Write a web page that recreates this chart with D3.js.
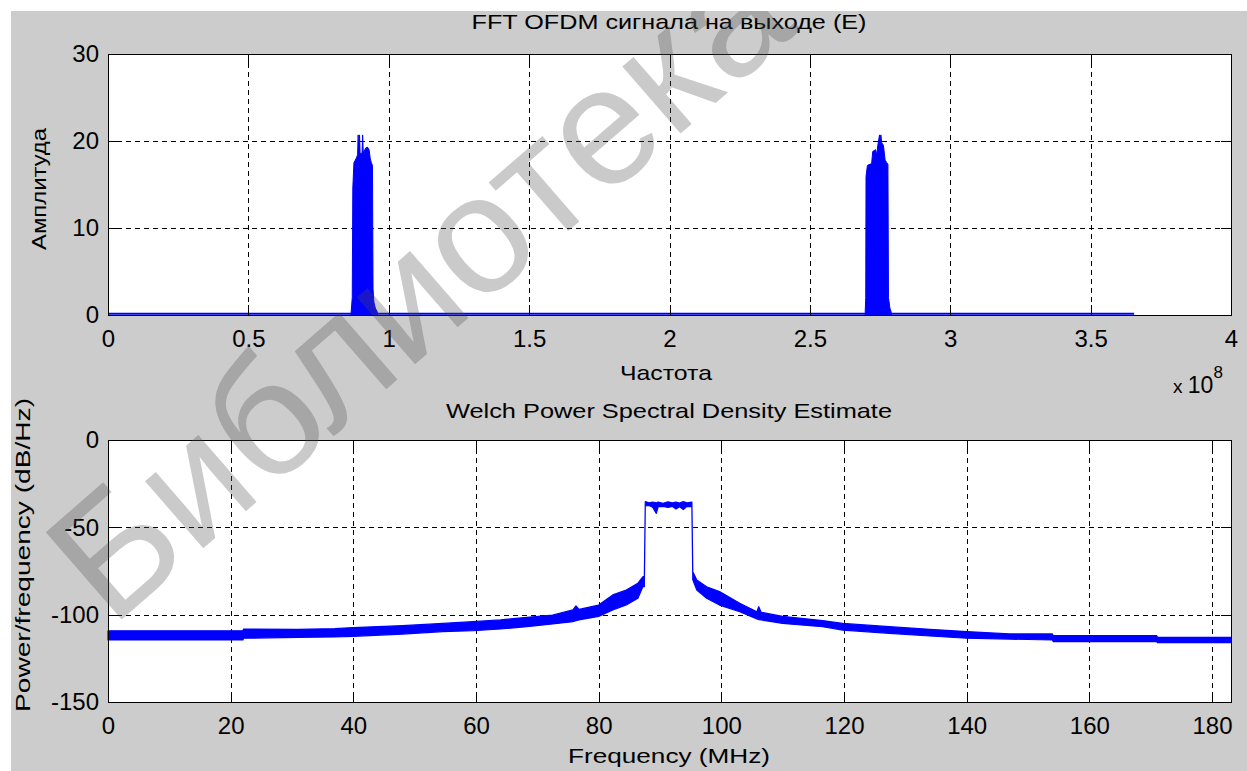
<!DOCTYPE html>
<html>
<head>
<meta charset="utf-8">
<script src="https://cdn.jsdelivr.net/npm/d3@7"></script>
<style>
  body { margin: 0; background: #fff; }
  text { font-family: "Liberation Sans", Arial, Helvetica, sans-serif; fill: #000; }
</style>
</head>
<body>
<div class="container"></div>
<script>
// top plot: FFT amplitude, x in units of 1e8 Hz
const fftX = [0, 3.655]
const fftY = [0.15, 0.15]
const peak1X = [0.866, 0.870, 0.872, 0.876, 0.884, 0.889, 0.891, 0.893, 0.896, 0.898, 0.901, 0.905, 0.907, 0.909, 0.912, 0.918, 0.924, 0.930, 0.934, 0.938, 0.942, 0.944, 0.947, 0.952, 0.960]
const peak1Y = [0.3, 2, 14.6, 17.5, 18.0, 18.4, 20.7, 18.8, 20.7, 18.5, 18.6, 18.6, 20.7, 18.8, 18.8, 19.2, 19.3, 19.0, 18.0, 17.5, 17.2, 3.0, 1.5, 0.8, 0.3]
const peak2X = [2.697, 2.699, 2.700, 2.705, 2.720, 2.724, 2.734, 2.738, 2.742, 2.748, 2.750, 2.753, 2.756, 2.762, 2.768, 2.774, 2.778, 2.780, 2.785, 2.790]
const peak2Y = [0.3, 2, 15.9, 17.2, 17.4, 18.8, 19.0, 18.4, 19.5, 20.7, 20.3, 20.7, 19.8, 19.5, 17.8, 17.5, 17.3, 2.0, 0.8, 0.3]
const fftXTicks = [0, 0.5, 1, 1.5, 2, 2.5, 3, 3.5, 4]
const fftYTicks = [0, 10, 20, 30]

// bottom plot: Welch PSD, thick noisy trace as upper/lower envelope
const psdF    = [0, 22, 22.1, 31, 37, 40, 48, 54.6, 59.5, 64, 68.3, 72.5, 75.8, 76.3, 76.8, 80, 82.3, 84.5, 86.4, 87.2, 87.45, 87.6, 88.2, 88.8, 89.4, 89.7, 90.5, 91.3, 92.0, 92.6, 93.2, 93.8, 94.4, 95.2, 95.35, 96.0, 97.6, 99.7, 103, 105.8, 106.1, 106.5, 110, 116.5, 119.8, 127.4, 134, 140, 147, 154, 154.1, 171, 171.1, 183.1]
const psdHigh = [-109.2, -109.2, -108.2, -108.4, -108.0, -107.4, -106.3, -105, -104, -103, -101.5, -100.2, -97.3, -95, -97, -94.5, -88.7, -85.9, -82, -78.3, -78, -35.3, -36.0, -35.5, -36.0, -35.6, -36.2, -35.4, -36.0, -35.5, -36.1, -35.3, -36.0, -35.6, -75.4, -80.2, -84, -86.8, -93.5, -98.3, -95.4, -98.6, -101, -103.4, -105, -106.9, -108.4, -109.7, -111, -111, -112, -112, -113, -113]
const psdLow  = [-114.5, -114.5, -113.5, -113, -112.8, -112.4, -111.1, -109.7, -109.2, -108.2, -106.9, -105.3, -104, -103.5, -103, -101, -97.3, -94.5, -90.6, -84, -84, -37.8, -37.5, -38.5, -42.0, -38.2, -38.0, -38.6, -38.0, -39.5, -38.2, -39.8, -38.0, -38.2, -80, -85.9, -90.6, -94.5, -98.3, -102.5, -102.8, -103, -105, -106.9, -108.8, -110.7, -112.2, -113.5, -114, -114.5, -115.4, -115.4, -116, -116]
const psdXTicks = [0, 20, 40, 60, 80, 100, 120, 140, 160, 180]
const psdYTicks = [0, -50, -100, -150]

const W = 1247, H = 771
const blue = '#0000ff'

const svg = d3.select('.container')
    .append('svg')
    .attr('width', W)
    .attr('height', H)

svg.append('rect').attr('width', W).attr('height', H).attr('fill', '#fff')
svg.append('rect').attr('x', 11).attr('y', 11).attr('width', W - 11).attr('height', H - 11).attr('fill', '#cccccc')

// one MATLAB-style axes box with grid and inward ticks
function makeAxes(box, xDom, yDom, xTicks, yTicks) {
    const x = d3.scaleLinear().domain(xDom).range([box.l, box.r])
    const y = d3.scaleLinear().domain(yDom).range([box.b, box.t])
    const g = svg.append('g')

    g.append('rect')
        .attr('x', box.l).attr('y', box.t)
        .attr('width', box.r - box.l).attr('height', box.b - box.t)
        .attr('fill', '#fff')

    // grid
    const grid = g.append('g')
        .attr('stroke', '#000').attr('stroke-width', 1)
        .attr('stroke-dasharray', '5,4').attr('shape-rendering', 'crispEdges')
    xTicks.forEach(v => {
        grid.append('line').attr('x1', Math.round(x(v)) + .5).attr('x2', Math.round(x(v)) + .5)
            .attr('y1', box.t).attr('y2', box.b)
    })
    yTicks.forEach(v => {
        grid.append('line').attr('y1', Math.round(y(v)) + .5).attr('y2', Math.round(y(v)) + .5)
            .attr('x1', box.l).attr('x2', box.r)
    })

    const plot = g.append('g')

    const axes = g.append('g')
    const tickFont = g => {
        g.select('.domain').remove()
        g.selectAll('text').attr('font-size', 24).attr('font-family', '"Liberation Sans", Arial, sans-serif')
        g.selectAll('line').attr('stroke', '#000').attr('shape-rendering', 'crispEdges')
    }
    axes.append('g').attr('transform', `translate(0,${box.b})`)
        .call(d3.axisBottom(x).tickValues(xTicks).tickSize(-10).tickPadding(15).tickFormat(d3.format('')))
        .call(tickFont)
    axes.append('g').attr('transform', `translate(0,${box.t})`)
        .call(d3.axisTop(x).tickValues(xTicks).tickSize(-10).tickFormat(''))
        .call(tickFont)
    axes.append('g').attr('transform', `translate(${box.l},0)`)
        .call(d3.axisLeft(y).tickValues(yTicks).tickSize(-10).tickPadding(9).tickFormat(d3.format('')))
        .call(tickFont)
    axes.append('g').attr('transform', `translate(${box.r},0)`)
        .call(d3.axisRight(y).tickValues(yTicks).tickSize(-10).tickFormat(''))
        .call(tickFont)
    axes.selectAll('text').text(function() { return this.textContent.replace('\u2212', '-') })

    g.append('rect')
        .attr('x', box.l + .5).attr('y', box.t + .5)
        .attr('width', box.r - box.l).attr('height', box.b - box.t)
        .attr('fill', 'none').attr('stroke', '#000').attr('stroke-width', 1)
        .attr('shape-rendering', 'crispEdges')

    return { x, y, plot }
}

function label(txt, x, y, size, len, rot) {
    const t = svg.append('text')
        .attr('x', x).attr('y', y)
        .attr('font-size', size)
        .attr('text-anchor', 'middle')
        .text(txt)
    if (len) t.attr('textLength', len).attr('lengthAdjust', 'spacingAndGlyphs')
    if (rot) t.attr('transform', `rotate(${rot},${x},${y})`)
    return t
}

// ---- top: FFT
const fftAx = makeAxes({ l: 108, r: 1231, t: 54, b: 315 }, [0, 4], [0, 30], fftXTicks, fftYTicks)

const fftArea = d3.area().x(d => fftAx.x(d[0])).y0(fftAx.y(0)).y1(d => fftAx.y(d[1]))
fftAx.plot.append('path')
    .attr('d', fftArea(d3.zip(peak1X, peak1Y)))
    .attr('fill', blue).attr('stroke', blue).attr('stroke-width', 1)
fftAx.plot.append('path')
    .attr('d', fftArea(d3.zip(peak2X, peak2Y)))
    .attr('fill', blue).attr('stroke', blue).attr('stroke-width', 1)
fftAx.plot.append('path')
    .attr('d', d3.line().x(d => fftAx.x(d[0])).y(d => fftAx.y(d[1]))(d3.zip(fftX, fftY)))
    .attr('fill', 'none').attr('stroke', blue).attr('stroke-width', 2)

label('FFT OFDM сигнала на выходе (E)', 669, 29, 21, 395)
label('Частота', 666, 380, 21, 92)
label('Амплитуда', 46, 189, 21, 122, -90)
const ex = svg.append('text').attr('x', 1173).attr('y', 393).attr('font-size', 23)
ex.append('tspan').attr('font-size', 19).text('x ')
ex.append('tspan').text('10')
ex.append('tspan').attr('dy', -15).attr('font-size', 17).text('8')

// ---- bottom: Welch PSD
const psdAx = makeAxes({ l: 108, r: 1231, t: 440, b: 702 }, [0, 183.1], [-150, 0], psdXTicks, psdYTicks)

const psdArea = d3.area().x(d => psdAx.x(d[0])).y0(d => psdAx.y(d[2])).y1(d => psdAx.y(d[1]))
psdAx.plot.append('path')
    .attr('d', psdArea(d3.zip(psdF, psdHigh, psdLow)))
    .attr('fill', blue).attr('stroke', blue).attr('stroke-width', 1.2)
    .attr('stroke-linejoin', 'round')

label('Welch Power Spectral Density Estimate', 669, 418, 21, 446)
label('Frequency (MHz)', 669, 763, 21, 202)
label('Power/frequency (dB/Hz)', 30, 555, 21, 314, -90)

// ---- watermark (kept inside the grey figure area)
svg.append('clipPath').attr('id', 'fig')
    .append('rect').attr('x', 11).attr('y', 11).attr('width', W - 11).attr('height', H - 11)
svg.append('g').attr('clip-path', 'url(#fig)')
    .append('text')
    .attr('x', 418).attr('y', 285)
    .attr('text-anchor', 'middle')
    .attr('dominant-baseline', 'central')
    .attr('font-size', 168)
    .attr('transform', 'rotate(-41,418,285)')
    .style('fill', 'rgba(80,80,80,0.3)')
    .text('Библиотека')
</script>
</body>
</html>
